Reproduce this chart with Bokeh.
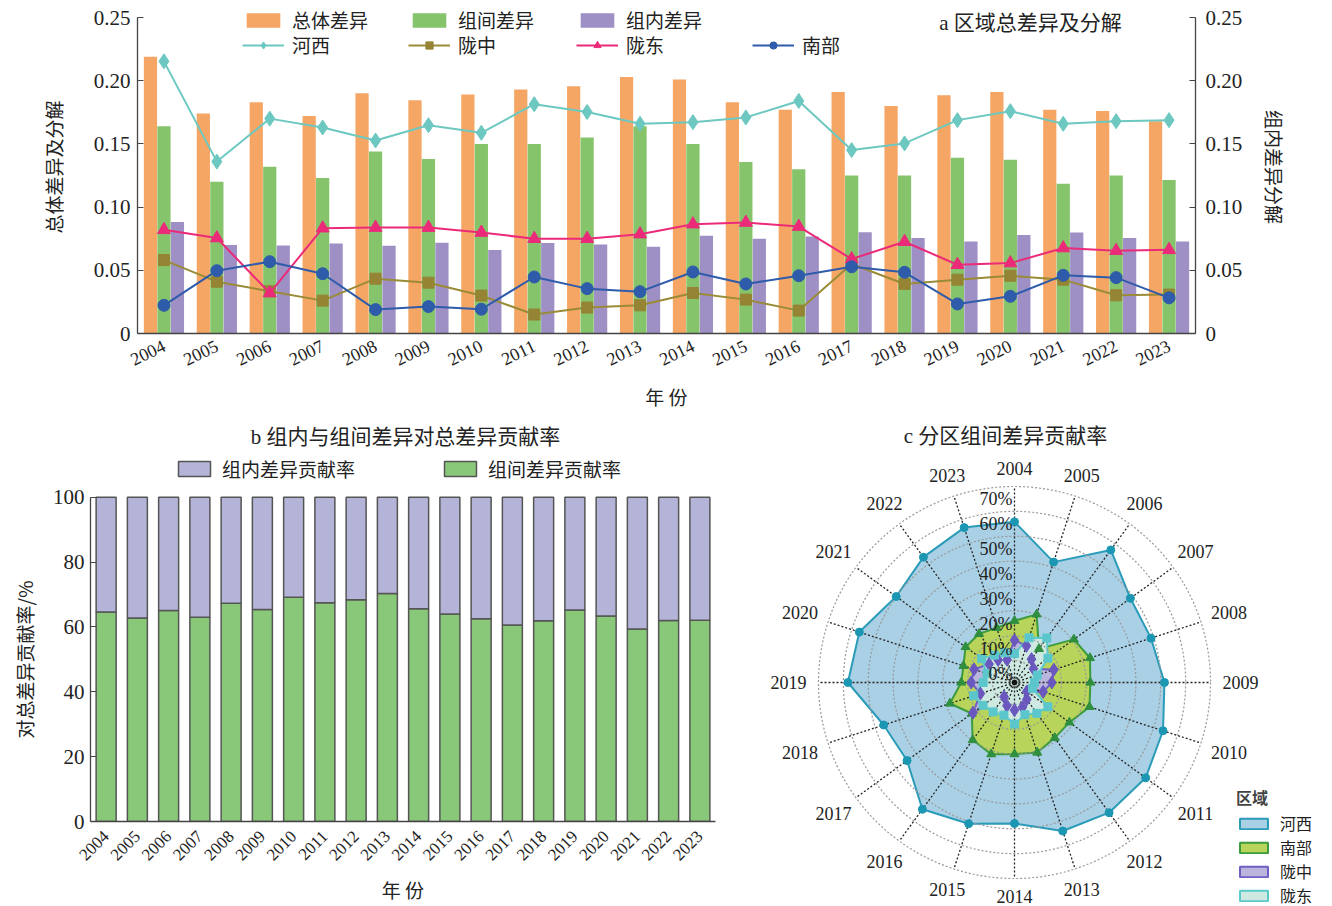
import math
from bokeh.plotting import figure
from bokeh.models import (FactorRange, Range1d, LinearAxis, FixedTicker, CustomJSTickFormatter,
                          Legend, LegendItem, Label, ColumnDataSource)
from bokeh.transform import dodge
from bokeh.layouts import column, row
from bokeh.core.properties import value
from bokeh.embed import file_html
from bokeh.resources import INLINE

# ---------------- data ----------------
years = [str(y) for y in range(2004, 2024)]
total_diff = [0.219, 0.174, 0.183, 0.172, 0.190, 0.1845, 0.189, 0.193, 0.1956, 0.203,
              0.201, 0.183, 0.177, 0.191, 0.180, 0.1885, 0.191, 0.177, 0.176, 0.168]
between_diff = [0.164, 0.120, 0.132, 0.123, 0.144, 0.138, 0.150, 0.150, 0.155, 0.164,
                0.150, 0.1356, 0.130, 0.125, 0.125, 0.139, 0.1375, 0.1185, 0.125, 0.1215]
within_diff = [0.0883, 0.070, 0.0697, 0.0712, 0.0694, 0.0718, 0.066, 0.0715, 0.0704, 0.0686,
               0.0773, 0.075, 0.0768, 0.0802, 0.0755, 0.0728, 0.078, 0.0799, 0.0755, 0.0728]
hexi = [0.2153, 0.136, 0.170, 0.163, 0.1527, 0.1648, 0.1588, 0.1814, 0.1753, 0.1659,
        0.1672, 0.1709, 0.184, 0.1451, 0.1504, 0.1688, 0.1759, 0.1659, 0.168, 0.1688]
longzhong = [0.0581, 0.041, 0.0334, 0.026, 0.0434, 0.0402, 0.030, 0.015, 0.0205, 0.0223,
             0.0321, 0.0268, 0.0181, 0.055, 0.0392, 0.0426, 0.0457, 0.0426, 0.0302, 0.0308]
longdong = [0.082, 0.0755, 0.032, 0.0833, 0.0838, 0.0838, 0.0799, 0.075, 0.075, 0.0786,
            0.0865, 0.0878, 0.0846, 0.0589, 0.0726, 0.0544, 0.0557, 0.0676, 0.0655, 0.0662]
nanbu = [0.0223, 0.0497, 0.0568, 0.0473, 0.0189, 0.0213, 0.0192, 0.0447, 0.0355, 0.0331,
         0.0487, 0.0392, 0.0457, 0.0528, 0.0484, 0.0234, 0.0294, 0.046, 0.0442, 0.0282]

between_share = [64.6, 62.8, 65.1, 63.0, 67.3, 65.4, 69.2, 67.5, 68.4, 70.3,
                 65.6, 64.0, 62.5, 60.6, 61.9, 65.2, 63.4, 59.4, 62.0, 62.1]
within_share = [35.4, 37.2, 34.9, 37.0, 32.7, 34.6, 30.8, 32.5, 31.6, 29.7,
                34.4, 36.0, 37.5, 39.4, 38.1, 34.8, 36.6, 40.6, 38.0, 37.9]

radar_hexi = [61.0, 47.3, 62.3, 54.0, 54.1, 56.7, 59.2, 61.6, 61.1, 59.2,
              53.1, 56.1, 59.4, 49.8, 51.7, 63.4, 62.0, 55.2, 58.7, 61.9]
radar_nanbu = [21.2, 25.2, 13.1, 25.9, 28.3, 26.9, 28.1, 23.7, 23.9, 26.0,
               25.2, 26.7, 25.0, 17.6, 23.7, 17.8, 18.0, 20.7, 20.6, 19.5]
radar_longzhong = [13.4, 11.9, 8.0, 5.8, 13.0, 11.4, 8.5, 2.5, 4.8, 6.8,
                   7.5, 6.2, 3.5, 17.0, 10.8, 13.8, 13.5, 9.0, 7.6, 6.0]
radar_longdong = [8.0, 15.3, 18.5, 13.0, 6.0, 4.4, 4.0, 13.0, 11.7, 10.0,
                  13.1, 10.2, 11.0, 12.0, 13.6, 9.0, 8.0, 12.7, 10.0, 9.0]
radar_ticks = [0, 10, 20, 30, 40, 50, 60, 70]

# ---------------- styles ----------------
SERIF = "Liberation Serif, Noto Sans CJK SC"
CJK = "Noto Sans CJK SC"
ORANGE, GREEN, PURPLE = "#F5A664", "#86C46B", "#9E8FC5"
C_HEXI, C_LZ, C_LD, C_NB = "#6CC8C0", "#9A8B36", "#EC2A7A", "#2E5BAA"
AXC = "#444444"


def style_axis(ax, size="21px"):
    ax.major_label_text_font = "Liberation Serif"
    ax.major_label_text_font_size = size
    ax.major_label_text_color = "#222"
    ax.axis_line_color = AXC
    ax.axis_line_width = 1.3
    ax.major_tick_line_color = AXC
    ax.minor_tick_line_color = None
    ax.axis_label_text_font = CJK
    ax.axis_label_text_font_style = "normal"
    ax.axis_label_text_color = "#222"


def single_legend(label, renderers, x, y, gw=42, gh=18, size="19px"):
    return Legend(items=[LegendItem(label=label, renderers=renderers)], location=(x, y),
                  padding=0, margin=0, spacing=0, border_line_color=None,
                  background_fill_alpha=0, glyph_width=gw, glyph_height=gh,
                  label_text_font=CJK, label_text_font_size=size, label_standoff=8,
                  label_text_color="#222")


# ---------------- panel a ----------------
src = ColumnDataSource(dict(year=years, total=total_diff, between=between_diff, within=within_diff,
                            hexi=hexi, lz=longzhong, ld=longdong, nb=nanbu))

YTOP = 0.25 * 333 / 316
pa = figure(width=1332, height=412, x_range=FactorRange(*years), y_range=Range1d(0, YTOP),
            output_backend="svg", toolbar_location=None,
            min_border_left=137, min_border_right=137, min_border_top=0, min_border_bottom=79)
pa.outline_line_color = None
pa.grid.visible = False
pa.extra_y_ranges = {"r": Range1d(0, YTOP)}
ra = LinearAxis(y_range_name="r")
pa.add_layout(ra, "right")

fmt = "return tick == 0 ? '0' : tick.toFixed(2);"
for ax in [pa.yaxis[0], ra]:
    ax.ticker = FixedTicker(ticks=[0, 0.05, 0.1, 0.15, 0.2, 0.25])
    ax.formatter = CustomJSTickFormatter(code=fmt)
    ax.bounds = (0, 0.25)
    style_axis(ax)
    ax.major_tick_in = 6
    ax.major_tick_out = 0
    ax.axis_label_text_font_size = "19px"
pa.yaxis[0].axis_label = "总体差异及分解"
pa.yaxis[0].axis_label_standoff = 24
pa.yaxis[0].major_label_standoff = 7
ra.axis_label = "组内差异分解"
ra.axis_label_standoff = 16
ra.major_label_standoff = 10

xa = pa.xaxis[0]
style_axis(xa, "18px")
xa.major_tick_line_color = None
xa.major_label_orientation = 0.45
xa.axis_label = "年 份"
xa.axis_label_text_font_size = "19px"
xa.axis_label_standoff = 8

b1 = pa.vbar(x=dodge("year", -0.255, range=pa.x_range), top="total", width=0.25,
             fill_color=ORANGE, line_color=None, source=src)
b2 = pa.vbar(x=dodge("year", 0.0, range=pa.x_range), top="between", width=0.25,
             fill_color=GREEN, line_color=None, source=src)
b3 = pa.vbar(x=dodge("year", 0.255, range=pa.x_range), top="within", width=0.25,
             fill_color=PURPLE, line_color=None, source=src)

l1 = pa.line("year", "hexi", source=src, line_color=C_HEXI, line_width=2)
m1 = pa.scatter("year", "hexi", source=src, marker="diamond", size=15, fill_color=C_HEXI, line_color=C_HEXI)
l2 = pa.line("year", "lz", source=src, line_color=C_LZ, line_width=2)
m2 = pa.scatter("year", "lz", source=src, marker="square", size=11, fill_color="#958433", line_color="#958433")
l3 = pa.line("year", "ld", source=src, line_color=C_LD, line_width=2)
m3 = pa.scatter("year", "ld", source=src, marker="triangle", size=13, fill_color=C_LD, line_color=C_LD)
l4 = pa.line("year", "nb", source=src, line_color=C_NB, line_width=2)
m4 = pa.scatter("year", "nb", source=src, marker="circle", size=12, fill_color=C_NB, line_color=C_NB)

for lab, rens, x, y in [("总体差异", [b1], 105, 300), ("组间差异", [b2], 271, 300), ("组内差异", [b3], 439, 300),
                        ("河西", [l1, m1], 105, 275), ("陇中", [l2, m2], 271, 275),
                        ("陇东", [l3, m3], 439, 275), ("南部", [l4, m4], 615, 275)]:
    pa.add_layout(single_legend(lab, rens, x, y))

pa.add_layout(Label(x=16.88, y=0.246, text="a 区域总差异及分解", text_font=SERIF,
                    text_font_size="21px", text_align="center", text_baseline="middle", text_color="#222"))

# ---------------- panel b ----------------
PXU = 3.25  # pixels per percent unit in panel b
srcb = ColumnDataSource(dict(year=years, between=between_share, within=within_share))
pb = figure(width=740, height=494, x_range=FactorRange(*years),
            y_range=Range1d(0, 100 + 85 / PXU),
            output_backend="svg", toolbar_location=None,
            min_border_left=90, min_border_right=25, min_border_top=0, min_border_bottom=84)
pb.outline_line_color = None
pb.grid.visible = False
rb = pb.vbar_stack(["between", "within"], x="year", width=0.64, source=srcb,
                   fill_color=["#88C878", "#B4B4D8"], line_color="#555", line_width=1.5)
yb = pb.yaxis[0]
style_axis(yb, "21px")
yb.ticker = FixedTicker(ticks=[0, 20, 40, 60, 80, 100])
yb.bounds = (0, 100)
yb.major_tick_in = 6
yb.major_tick_out = 0
yb.major_label_standoff = 6
# trailing no-break spaces shift the visible title down to the centre of the bar area
yb.axis_label = "对总差异贡献率/%" + "\u00a0" * 20
yb.axis_label_text_font_size = "19px"
yb.axis_label_standoff = 12
xb = pb.xaxis[0]
style_axis(xb, "17px")
xb.axis_line_width = 1.5
xb.major_tick_line_color = None
xb.major_label_orientation = math.pi / 4
xb.major_label_standoff = 6
xb.axis_label = "年 份"
xb.axis_label_text_font_size = "19px"
xb.axis_label_standoff = 8

pb.add_layout(single_legend("组内差异贡献率", [rb[1]], 84, 339, gw=40, gh=19, size="19px"))
pb.add_layout(single_legend("组间差异贡献率", [rb[0]], 350, 339, gw=40, gh=19, size="19px"))
pb.add_layout(Label(x=10.08, y=100 + 60 / PXU, text="b 组内与组间差异对总差异贡献率", text_font=SERIF,
                    text_font_size="21px", text_align="center", text_baseline="middle", text_color="#222"))

# ---------------- panel c (radar) ----------------
pc = figure(width=592, height=494, x_range=Range1d(0, 592), y_range=Range1d(0, 494),
            output_backend="svg", toolbar_location=None, min_border=0,
            x_axis_location=None, y_axis_location=None)
pc.grid.visible = False
pc.outline_line_color = None
CX, CY = 274, 224
N = len(years)
angs = [2 * math.pi * i / N for i in range(N)]


def rad(p):
    return 9 + 2.486 * p


def poly(vals):
    xs = [CX + rad(v) * math.sin(a) for v, a in zip(vals, angs)]
    ys = [CY + rad(v) * math.cos(a) for v, a in zip(vals, angs)]
    return xs, ys


series = [
    ("河西", radar_hexi, "#A9D0E5", "#2A9BB8", "circle", 8, "#1C97B3"),
    ("南部", radar_nanbu, "#B9D45A", "#3C9B3C", "triangle", 9, "#2F8F3F"),
    ("陇中", radar_longzhong, "#B9B5DD", "#6F5FC3", "diamond", 13, "#6A58BE"),
    ("陇东", radar_longdong, "#CDE9E1", "#5CC9CB", "square", 8, "#5BC7CC"),
]
patch_r = {}
for name, vals, fc, lc, mk, ms, mc in series:
    xs, ys = poly(vals)
    patch_r[name] = pc.patch(xs, ys, fill_color=fc, line_color=lc, line_width=2)

# grid rings and spokes
ring_r = [rad(t) + 13 for t in radar_ticks]
pc.circle(x=[CX] * len(ring_r), y=[CY] * len(ring_r), radius=ring_r, fill_color=None,
          line_color="#999999", line_dash="2 2", line_width=1.2)
R_OUT = ring_r[-1]
pc.segment(x0=[CX] * N, y0=[CY] * N,
           x1=[CX + R_OUT * math.sin(a) for a in angs], y1=[CY + R_OUT * math.cos(a) for a in angs],
           line_color="#222", line_dash="2 2", line_width=1.3)
pc.scatter([CX], [CY], size=5, color="#111")

for name, vals, fc, lc, mk, ms, mc in series:
    xs, ys = poly(vals)
    pc.scatter(xs, ys, marker=mk, size=ms, fill_color=mc, line_color=mc)

# radial tick labels
pc.text(x=[CX - 2] * len(radar_ticks), y=[CY + rad(t) for t in radar_ticks],
        text=[f"{t}%" for t in radar_ticks], text_font=value("Liberation Serif"),
        text_font_size="18px", text_align="right", text_baseline="middle", text_color="#222")
# year labels
lab_r = [214 + 12 * abs(math.sin(a)) for a in angs]
pc.text(x=[CX + r * math.sin(a) for r, a in zip(lab_r, angs)],
        y=[CY + r * math.cos(a) for r, a in zip(lab_r, angs)],
        text=years, text_font=value("Liberation Serif"), text_font_size="18px",
        text_align="center", text_baseline="middle", text_color="#222")

pc.add_layout(Label(x=265, y=471, text="c 分区组间差异贡献率", text_font=SERIF, text_font_size="21px",
                    text_align="center", text_baseline="middle", text_color="#222"))

leg_c = Legend(items=[LegendItem(label=n, renderers=[patch_r[n]]) for n in ["河西", "南部", "陇中", "陇东"]],
               location=(496, -1), title="区域", title_text_font=CJK, title_text_font_size="16px",
               title_text_font_style="bold", title_standoff=2, padding=0, margin=0, spacing=0,
               border_line_color=None, background_fill_alpha=0, glyph_width=35, glyph_height=13,
               label_text_font=CJK, label_text_font_size="16px", label_standoff=9, label_height=16,
               label_text_color="#222")
pc.add_layout(leg_c)

layout = column(pa, row(pb, column(pc)))
open("out.html", "w").write(file_html(layout, INLINE))
